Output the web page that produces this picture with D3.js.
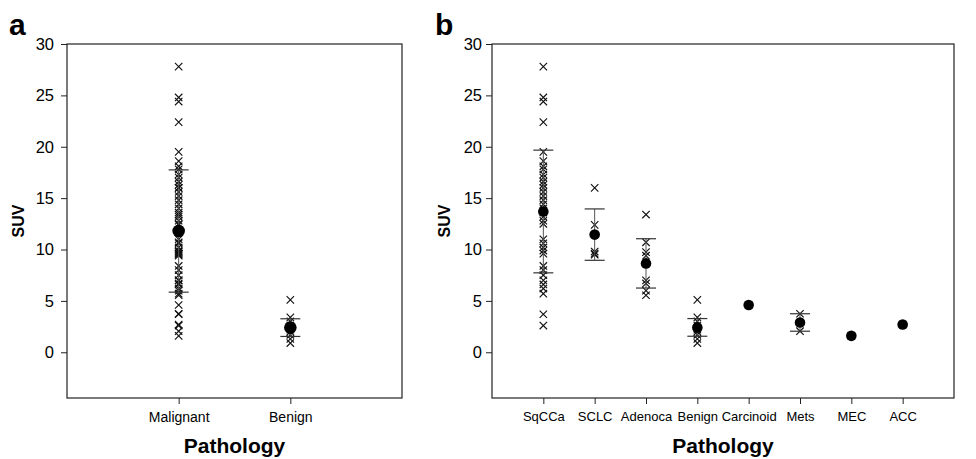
<!DOCTYPE html>
<html>
<head>
<meta charset="utf-8">
<script src="https://cdn.jsdelivr.net/npm/d3@7"></script>
<style>
  body { margin: 0; background: #fff; }
  svg { font-family: 'Liberation Sans', Arial, sans-serif; }
</style>
</head>
<body>
<div id="chart"></div>
<script>
// SUV values
var sqcca = [27.8, 24.8, 24.4, 22.4, 19.5, 18.6, 18.1, 17.8, 17.3, 17.0, 16.6, 16.3, 16.0, 15.6, 15.2,
    14.8, 14.4, 14.0, 13.6, 13.2, 12.8, 12.5, 11.0, 10.6, 10.2, 9.9, 9.6, 8.4, 8.0, 7.5, 7.0, 6.6, 6.2, 5.7, 3.7, 2.6];
var sclc = [16.0, 12.4, 9.8, 9.6, 9.5];
var adenoca = [13.4, 10.7, 9.75, 9.4, 7.0, 6.7, 6.0, 5.55];
var benign = [5.1, 3.4, 3.0, 2.6, 2.2, 2.0, 1.7, 1.3, 0.9];
var carcinoid = [4.6];
var mets = [3.75, 2.05];
var mec = [1.6];
var acc = [2.7];

var catsA = ['Malignant', 'Benign'];
var catsB = ['SqCCa', 'SCLC', 'Adenoca', 'Benign', 'Carcinoid', 'Mets', 'MEC', 'ACC'];

// mean and SD as drawn in the figure
var meansA = [11.8, 2.4];
var sdsA = [5.95, 0.86];
var meansB = [13.7, 11.45, 8.65, 2.42, 4.6, 2.9, 1.6, 2.7];
var sdsB = [5.97, 2.5, 2.4, 0.86, 0, 0.85, 0, 0];

var yTicks = [0, 5, 10, 15, 20, 25, 30];

var malignant = [].concat(sqcca, sclc, adenoca, carcinoid, mets, mec, acc);
var groupsA = [malignant, benign];
var groupsB = [sqcca, sclc, adenoca, benign, carcinoid, mets, mec, acc];

var width = 976;
var height = 459;

var svg = d3.select('#chart').append('svg')
    .attr('width', width)
    .attr('height', height);

function drawPanel(opt) {
    var g = svg.append('g');

    var x = d3.scaleLinear()
        .domain([0, opt.cats.length + 1])
        .range([opt.left, opt.right]);

    var y = d3.scaleLinear()
        .domain([-4.45, 30])
        .range([398, 44]);

    var xAxis = d3.axisBottom(x)
        .tickValues(d3.range(1, opt.cats.length + 1))
        .tickFormat(function (d) { return opt.cats[d - 1]; })
        .tickSize(6)
        .tickPadding(8);

    var yAxis = d3.axisLeft(y)
        .tickValues(yTicks)
        .tickSize(6)
        .tickPadding(opt.yPad);

    var xg = g.append('g')
        .attr('transform', 'translate(0,398)')
        .call(xAxis);
    xg.select('.domain').remove();
    xg.selectAll('text')
        .style('font-size', opt.catFont + 'px')
        .attr('fill', '#000');

    var yg = g.append('g')
        .attr('transform', `translate(${opt.left},0)`)
        .call(yAxis);
    yg.select('.domain').remove();
    yg.selectAll('text')
        .style('font-size', '16.5px')
        .attr('fill', '#000');

    g.selectAll('.tick line').attr('stroke', '#222');

    // frame
    g.append('rect')
        .attr('x', opt.left)
        .attr('y', y(30))
        .attr('width', opt.right - opt.left)
        .attr('height', y(-4.45) - y(30))
        .attr('fill', 'none')
        .attr('stroke', '#222')
        .attr('stroke-width', 1.2);

    // individual values as x marks
    opt.groups.forEach(function (vals, i) {
        g.selectAll(null)
            .data(vals)
            .enter()
            .append('path')
            .attr('d', 'M-3.7,-3.7L3.7,3.7M-3.7,3.7L3.7,-3.7')
            .attr('transform', d => `translate(${x(i + 1)},${y(d)})`)
            .attr('stroke', '#111')
            .attr('stroke-width', 1.15)
            .attr('fill', 'none');
    });

    // error bars
    var bars = opt.means.map(function (m, i) { return { i: i, m: m, s: opt.sds[i] }; })
        .filter(d => d.s > 0);

    g.selectAll(null)
        .data(bars)
        .enter()
        .append('line')
        .attr('x1', d => x(d.i + 1))
        .attr('x2', d => x(d.i + 1))
        .attr('y1', d => y(d.m + d.s))
        .attr('y2', d => y(d.m - d.s))
        .attr('stroke', '#555')
        .attr('stroke-width', 1);

    [1, -1].forEach(function (sign) {
        g.selectAll(null)
            .data(bars)
            .enter()
            .append('line')
            .attr('x1', d => x(d.i + 1) - 10)
            .attr('x2', d => x(d.i + 1) + 10)
            .attr('y1', d => y(d.m + sign * d.s))
            .attr('y2', d => y(d.m + sign * d.s))
            .attr('stroke', '#333')
            .attr('stroke-width', 1.2);
    });

    // means
    g.selectAll(null)
        .data(opt.means)
        .enter()
        .append('circle')
        .attr('cx', (d, i) => x(i + 1))
        .attr('cy', d => y(d))
        .attr('r', opt.r)
        .attr('fill', '#000');

    g.append('text')
        .attr('x', (opt.left + opt.right) / 2)
        .attr('y', 453)
        .attr('text-anchor', 'middle')
        .style('font-size', '21px')
        .style('font-weight', 'bold')
        .text('Pathology');

    g.append('text')
        .attr('transform', `translate(${opt.suvX},${(y(30) + y(-4.45)) / 2}) rotate(-90)`)
        .attr('text-anchor', 'middle')
        .style('font-size', '16px')
        .style('font-weight', 'bold')
        .text('SUV');

    g.append('text')
        .attr('x', opt.letterX)
        .attr('y', 35)
        .style('font-size', '30px')
        .style('font-weight', 'bold')
        .text(opt.letter);
}

drawPanel({
    cats: catsA, groups: groupsA, means: meansA, sds: sdsA,
    left: 67, right: 402, yPad: 7, catFont: 14, r: 6.3,
    suvX: 24, letter: 'a', letterX: 9
});

drawPanel({
    cats: catsB, groups: groupsB, means: meansB, sds: sdsB,
    left: 492, right: 954, yPad: 4, catFont: 13, r: 5.3,
    suvX: 450, letter: 'b', letterX: 435
});
</script>
</body>
</html>
